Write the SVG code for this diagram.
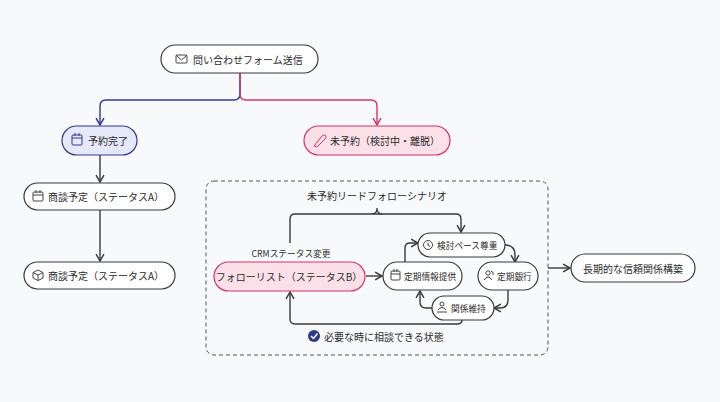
<svg xmlns="http://www.w3.org/2000/svg" width="720" height="402" viewBox="0 0 720 402">
<style>
text{font-family:"Noto Sans CJK JP","Noto Sans",sans-serif;font-size:10px;fill:#2a2a2a;dominant-baseline:central}
.s{font-size:8.7px}
.n{fill:#fff;stroke:#3a3a3a;stroke-width:1.2}
.c{fill:none;stroke:#3a3a3a;stroke-width:1.4;marker-end:url(#a)}
.ic{fill:none;stroke:#444;stroke-width:1}
</style>
<defs>
<marker id="a" viewBox="0 0 10 10" refX="8" refY="5" markerWidth="7" markerHeight="7" orient="auto"><path d="M1 1L8 5L1 9" fill="none" stroke="#3a3a3a" stroke-width="1.5"/></marker>
<marker id="ab" viewBox="0 0 10 10" refX="8" refY="5" markerWidth="7" markerHeight="7" orient="auto"><path d="M1 1L8 5L1 9" fill="none" stroke="#2d3a8c" stroke-width="1.5"/></marker>
<marker id="ap" viewBox="0 0 10 10" refX="8" refY="5" markerWidth="7" markerHeight="7" orient="auto"><path d="M1 1L8 5L1 9" fill="none" stroke="#d6336c" stroke-width="1.5"/></marker>
</defs>
<rect width="720" height="402" fill="#f8f9fb"/>
<rect x="206" y="181" width="342" height="174" rx="8" fill="none" stroke="#555" stroke-dasharray="4 3"/>
<g id="connectors">
<path d="M240 73V94Q240 100 234 100H106Q100 100 100 106V125" fill="none" stroke="#2d3a8c" stroke-width="1.4" marker-end="url(#ab)"/>
<path d="M240 73V94Q240 100 246 100H371Q377 100 377 106V125" fill="none" stroke="#d6336c" stroke-width="1.4" marker-end="url(#ap)"/>
<path class="c" d="M100 155V182"/>
<path class="c" d="M100 210V261"/>
<path class="c" d="M290 243V219Q290 214 295 214H456Q461 214 461 219V232"/>
<path d="M372 214Q377 214 377 208Q377 214 382 214" fill="none" stroke="#3a3a3a" stroke-width="1.2"/>
<path class="c" d="M366 276H382"/>
<path class="c" d="M405 262V248Q405 243 410 243H418"/>
<path class="c" d="M505 245Q515 245 515 255V262"/>
<path class="c" d="M508 290V300Q508 308 500 308H494"/>
<path class="c" d="M432 308H426Q420 308 420 302V291"/>
<path class="c" d="M462 320V320Q462 324 457 324H295Q290 324 290 319V292"/>
<path class="c" d="M548 268H570"/>
</g>
<g id="n-form"><rect class="n" x="161" y="45" width="157" height="28" rx="14"/>
<rect class="ic" x="176" y="55" width="11" height="8" rx="1"/><path class="ic" d="M176 55L181.5 60L187 55"/>
<text x="193" y="59">問い合わせフォーム送信</text></g>
<g id="n-booked"><rect x="62" y="126" width="75" height="29" rx="14.5" fill="#e4e8f8" stroke="#2d3a8c" stroke-width="1.2"/>
<rect x="72" y="135" width="10" height="10" rx="1" fill="none" stroke="#2d3a8c"/><path d="M72 138H82M75 133V136M79 133V136" stroke="#2d3a8c"/>
<text x="88" y="140.5">予約完了</text></g>
<g id="n-unbooked"><rect x="304" y="126" width="146" height="29" rx="14.5" fill="#fbe0e8" stroke="#d6336c" stroke-width="1.2"/>
<path d="M314 146L322 136Q324 134 325.5 135.5Q327 137 325 139L317 147Z" fill="none" stroke="#d6336c"/>
<text x="330" y="140.5">未予約（検討中・離脱）</text></g>
<g id="n-a1"><rect class="n" x="24" y="183" width="151" height="27" rx="13.5"/>
<rect class="ic" x="33" y="192" width="10" height="9" rx="1"/><path class="ic" d="M33 195H43M36 190V193M40 190V193"/>
<text x="48" y="196.5">商談予定（ステータスA）</text></g>
<g id="n-a2"><rect class="n" x="24" y="262" width="151" height="27" rx="13.5"/>
<path class="ic" d="M38 270L43 272.5V278L38 280.5L33 278V272.5ZM33 272.5L38 275L43 272.5M38 275V280.5"/>
<text x="48" y="275.5">商談予定（ステータスA）</text></g>
<g id="n-scenario"><text x="377" y="195" text-anchor="middle">未予約リードフォローシナリオ</text></g>
<g id="n-follow"><text x="291" y="253" text-anchor="middle" class="s">CRMステータス変更</text>
<rect x="214" y="262" width="151" height="29" rx="14.5" fill="#fbe0e8" stroke="#d6336c" stroke-width="1.2"/>
<text x="289" y="276.5" text-anchor="middle" font-size="9.5">フォローリスト（ステータスB）</text></g>
<g id="n-info"><rect class="n" x="383" y="262" width="79" height="28" rx="14"/>
<rect class="ic" x="391" y="271" width="9" height="9" rx="1"/><path class="ic" d="M391 274H400M394 269V272M397 269V272"/>
<text x="404" y="276" class="s">定期情報提供</text></g>
<g id="n-pace"><rect class="n" x="418" y="233" width="87" height="24" rx="12"/>
<circle class="ic" cx="428" cy="245" r="4.5"/><path class="ic" d="M428 242.5V245L430 246.5"/>
<text x="437" y="245" class="s">検討ペース尊重</text></g>
<g id="n-bank"><rect class="n" x="478" y="262" width="60" height="28" rx="14"/>
<circle class="ic" cx="488" cy="273" r="2.2"/><path class="ic" d="M484 280Q488 274 492 280M491 271Q494 272 493 275"/>
<text x="497" y="276" class="s">定期銀行</text></g>
<g id="n-keep"><rect class="n" x="432" y="296" width="62" height="24" rx="12"/>
<circle class="ic" cx="442" cy="304" r="2"/><path class="ic" d="M437 312H447M438 310Q442 305 446 310"/>
<text x="451" y="308" class="s">関係維持</text></g>
<g id="n-state"><circle cx="314" cy="336" r="6" fill="#2d3a8c"/><path d="M311 336L313.5 338.5L317.5 333.5" fill="none" stroke="#fff" stroke-width="1.5"/>
<text x="324" y="336">必要な時に相談できる状態</text></g>
<g id="n-long"><rect class="n" x="571" y="254" width="124" height="28" rx="14"/>
<text x="633" y="268" text-anchor="middle">長期的な信頼関係構築</text></g>
</svg>
